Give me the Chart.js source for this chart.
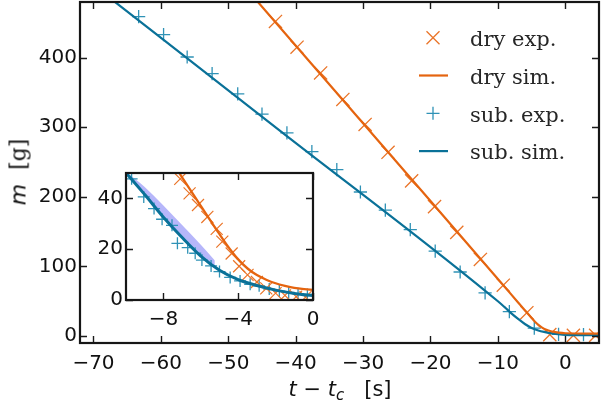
<!DOCTYPE html>
<html>
<head>
<meta charset="utf-8">
<script src="https://cdn.jsdelivr.net/npm/chart.js@4"></script>
<style>
  html,body{margin:0;padding:0;background:#fff;}
  #wrap{position:relative;width:603px;height:403px;overflow:hidden;background:#fff;}
  #main{position:absolute;left:0;top:0;}
  #inset{position:absolute;left:90px;top:165px;}
  .lbl{position:absolute;white-space:nowrap;color:#111;font-family:"DejaVu Sans";}
  #ylab{left:18px;top:172px;transform:translate(-50%,-50%) rotate(-90deg);font-size:22px;}
  #xlab{left:190px;width:300px;text-align:center;top:379px;font-size:21px;line-height:21px;}
  #xlab sub{font-size:15px;vertical-align:-4px;line-height:0;}
</style>
</head>
<body>
<div id="wrap">
  <canvas id="main" width="603" height="403"></canvas>
  <canvas id="inset" width="230" height="170"></canvas>
  <div id="ylab" class="lbl"><i>m</i>&nbsp;&nbsp;<span style="font-family:'DejaVu Serif'">[g]</span></div>
  <div id="xlab" class="lbl"><i>t</i> − <i>t</i><sub><i>c</i></sub>&nbsp;&nbsp;&nbsp;[s]</div>
</div>
<script>
// ---------------- data ----------------
const mainXTicks = [-70, -60, -50, -40, -30, -20, -10, 0];
const mainYTicks = [0, 100, 200, 300, 400];
const insetXTicks = [-8, -4, 0];
const insetYTicks = [0, 20, 40];
const legendLabels = ['dry exp.', 'dry sim.', 'sub. exp.', 'sub. sim.'];

// main panel: experimental points
const dryExpT = [-43.0, -39.8, -36.3, -33.0, -29.7, -26.3, -22.8, -19.4, -16.1, -12.6, -9.2, -5.7, -2.3, 1.2, 4.5];
const dryExpM = [452, 415, 378, 340, 304, 264, 223, 186, 149, 110, 73, 33.5, 2, 1, 1];
const subExpT = [-63.3, -59.6, -56.1, -52.4, -48.6, -45.0, -41.3, -37.6, -33.9, -30.4, -26.7, -23.0, -19.3, -15.6, -11.9, -8.3, -4.6, -1.0, 2.7];
const subExpM = [459, 433, 401, 377, 348, 319, 292, 265, 239, 207, 181, 153, 122, 92, 62, 35, 11.5, 2.5, 2];

// simulations (shared by both panels)
const drySimT = [-46.5, -20, -9.2, -7, -6, -5, -4.5, -4, -3.5, -3, -2.5, -2, -1.5, -1, 0, 5];
const drySimM = [490, 194, 73, 48.3, 37.1, 25.9, 20.6, 16.0, 12.4, 9.8, 8.0, 6.6, 5.6, 4.8, 4.0, 3.5];
const subSimT = [-68, -42.5, -10, -9, -8, -7, -6, -5, -4, -3, -2, -1, 0, 5];
const subSimM = [489, 296.4, 50, 41.5, 32.6, 24.6, 17.3, 11.7, 8.0, 5.7, 3.9, 2.6, 1.8, 1.2];

// inset: dense experimental points
const insetDryT = [-7.1, -6.6, -6.15, -5.65, -5.15, -4.85, -4.35, -3.95, -3.5, -3.0, -2.5, -2.0, -1.5, -0.9, -0.4];
const insetDryM = [47.7, 42.0, 37.4, 32.7, 28.0, 23.0, 18.3, 13.3, 9.9, 7.1, 4.6, 2.7, 1.8, 1.3, 1.1];
const insetSubT = [-9.7, -9.05, -8.5, -8.07, -7.54, -7.25, -6.7, -6.3, -5.94, -5.45, -5.0, -4.43, -3.9, -3.36, -2.88, -2.34, -1.8, -1.3, -0.8, -0.3];
const insetSubM = [47.7, 40.6, 36.0, 31.8, 29.4, 22.3, 20.6, 18.4, 15.7, 13.4, 11.2, 8.9, 7.5, 6.2, 5.6, 4.3, 3.5, 3.0, 2.5, 2.2];

// inset: shaded band
const bandT = [-10, -9, -8, -7, -6, -5.25];
const bandUpperM = [50.5, 44.5, 37.2, 29.5, 21.8, 15.6];
const bandLowerM = [50, 41.5, 32.6, 24.6, 17.3, 12.9];

// ---------------- styles ----------------
const ORANGE = '#e5640f';
const ORANGE_M = '#ea7428';
const BLUE = '#0a7198';
const BLUE_M = '#2f92b6';
const BAND = 'rgba(110,110,245,0.5)';

const zip = (xs, ys) => xs.map((x, i) => ({x: x, y: ys[i]}));
const fmt = v => (v < 0 ? '\u2212' + Math.abs(v) : String(v));

const framePlugin = {
  id: 'frame',
  beforeDraw(chart, args, o) {
    if (!o.bg) return;
    const a = chart.chartArea, ctx = chart.ctx;
    ctx.save(); ctx.fillStyle = '#fff';
    ctx.fillRect(a.left, a.top, a.right - a.left, a.bottom - a.top);
    ctx.restore();
  },
  afterDraw(chart, args, o) {
    const a = chart.chartArea, ctx = chart.ctx, sx = chart.scales.x, sy = chart.scales.y;
    ctx.save();
    ctx.strokeStyle = '#1a1a1a';
    ctx.lineWidth = o.tickWidth;
    ctx.beginPath();
    sx.ticks.forEach(t => {
      const p = Math.round(sx.getPixelForValue(t.value)) + 0.5;
      ctx.moveTo(p, a.bottom); ctx.lineTo(p, a.bottom - o.len);
      ctx.moveTo(p, a.top); ctx.lineTo(p, a.top + o.len);
    });
    sy.ticks.forEach(t => {
      const p = Math.round(sy.getPixelForValue(t.value)) + 0.5;
      ctx.moveTo(a.left, p); ctx.lineTo(a.left + o.len, p);
      ctx.moveTo(a.right, p); ctx.lineTo(a.right - o.len, p);
    });
    ctx.stroke();
    ctx.lineWidth = o.frameWidth;
    ctx.strokeStyle = '#161616';
    ctx.strokeRect(a.left, a.top, a.right - a.left, a.bottom - a.top);
    ctx.restore();
  }
};

const legendPlugin = {
  id: 'customLegend',
  afterDraw(chart) {
    const ctx = chart.ctx;
    const x0 = 433, tx = 470, base0 = 46, dy = 37.8;
    const kinds = [
      {type: 'x', color: ORANGE_M},
      {type: 'line', color: ORANGE},
      {type: '+', color: BLUE_M},
      {type: 'line', color: BLUE}
    ];
    ctx.save();
    legendLabels.forEach((lab, i) => {
      const b = base0 + i * dy, cy = b - 8.3, k = kinds[i];
      ctx.strokeStyle = k.color;
      ctx.beginPath();
      if (k.type === 'x') {
        ctx.lineWidth = 1.3;
        ctx.moveTo(x0 - 6.5, cy - 6.5); ctx.lineTo(x0 + 6.5, cy + 6.5);
        ctx.moveTo(x0 - 6.5, cy + 6.5); ctx.lineTo(x0 + 6.5, cy - 6.5);
      } else if (k.type === '+') {
        ctx.lineWidth = 1.3;
        ctx.moveTo(x0 - 6.5, cy); ctx.lineTo(x0 + 6.5, cy);
        ctx.moveTo(x0, cy - 6.5); ctx.lineTo(x0, cy + 6.5);
      } else {
        ctx.lineWidth = 2.2;
        ctx.moveTo(419, cy); ctx.lineTo(448, cy);
      }
      ctx.stroke();
      ctx.fillStyle = '#262626';
      ctx.font = '21px "DejaVu Serif"';
      ctx.textBaseline = 'alphabetic';
      ctx.textAlign = 'left';
      ctx.fillText(lab, tx, b);
    });
    ctx.restore();
  }
};

const tickFont = {family: 'DejaVu Sans', size: 20};

function axis(min, max, tickVals, fit, pad, isX) {
  return {
    type: 'linear', min: min, max: max,
    afterBuildTicks: s => { s.ticks = tickVals.map(v => ({value: v})); },
    afterFit: s => {
      if (isX) s.height = fit; else s.width = fit;
      s.paddingTop = 0; s.paddingBottom = 0; s.paddingLeft = 0; s.paddingRight = 0;
    },
    grid: {display: false, drawTicks: false},
    border: {display: false},
    ticks: {font: tickFont, color: '#111', padding: pad, callback: v => fmt(v), autoSkip: false, maxRotation: 0}
  };
}

// ---------------- main chart ----------------
new Chart(document.getElementById('main'), {
  type: 'scatter',
  data: {
    datasets: [
      {label: 'dry sim.', data: zip(drySimT, drySimM), showLine: true, borderColor: ORANGE, borderWidth: 2.2,
       pointRadius: 0, cubicInterpolationMode: 'monotone', order: 1, clip: 0},
      {label: 'sub. sim.', data: zip(subSimT, subSimM), showLine: true, borderColor: BLUE, borderWidth: 2.2,
       pointRadius: 0, cubicInterpolationMode: 'monotone', order: 1, clip: 0},
      {label: 'dry exp.', data: zip(dryExpT, dryExpM), showLine: false, pointStyle: 'crossRot', pointRadius: 9.3,
       pointBorderColor: ORANGE_M, borderColor: ORANGE_M, pointBorderWidth: 1.3, order: 2, clip: 0},
      {label: 'sub. exp.', data: zip(subExpT, subExpM), showLine: false, pointStyle: 'cross', pointRadius: 6.6,
       pointBorderColor: BLUE_M, borderColor: BLUE_M, pointBorderWidth: 1.3, order: 2, clip: 0}
    ]
  },
  options: {
    responsive: false, animation: false, devicePixelRatio: 1,
    layout: {autoPadding: false, padding: {top: 2, right: 4, left: 0, bottom: 0}},
    plugins: {legend: {display: false}, tooltip: {enabled: false},
              frame: {len: 7, tickWidth: 1.4, frameWidth: 2.2, bg: false}},
    events: [],
    scales: {
      x: axis(-72, 5, mainXTicks, 60, 9, true),
      y: axis(-10, 480, mainYTicks, 80, 3, false)
    }
  },
  plugins: [framePlugin, legendPlugin]
});

// ---------------- inset chart ----------------
new Chart(document.getElementById('inset'), {
  type: 'scatter',
  data: {
    datasets: [
      {label: 'band', data: zip(bandT, bandUpperM), showLine: true, borderColor: 'rgba(0,0,0,0)', borderWidth: 0,
       pointRadius: 0, fill: '+1', backgroundColor: BAND, cubicInterpolationMode: 'monotone', order: 5},
      {label: 'bandLow', data: zip(bandT, bandLowerM), showLine: true, borderColor: 'rgba(0,0,0,0)', borderWidth: 0,
       pointRadius: 0, fill: false, cubicInterpolationMode: 'monotone', order: 5},
      {label: 'dry sim.', data: zip(drySimT, drySimM), showLine: true, borderColor: ORANGE, borderWidth: 2.3,
       pointRadius: 0, cubicInterpolationMode: 'monotone', order: 1, clip: 0},
      {label: 'sub. sim.', data: zip(subSimT, subSimM), showLine: true, borderColor: BLUE, borderWidth: 3,
       pointRadius: 0, cubicInterpolationMode: 'monotone', order: 0, clip: 0},
      {label: 'dry exp.', data: zip(insetDryT, insetDryM), showLine: false, pointStyle: 'crossRot', pointRadius: 8.5,
       pointBorderColor: ORANGE_M, borderColor: ORANGE_M, pointBorderWidth: 1.2, order: 2, clip: 0},
      {label: 'sub. exp.', data: zip(insetSubT, insetSubM), showLine: false, pointStyle: 'cross', pointRadius: 6,
       pointBorderColor: BLUE_M, borderColor: BLUE_M, pointBorderWidth: 1.3, order: 2, clip: 0}
    ]
  },
  options: {
    responsive: false, animation: false, devicePixelRatio: 1,
    layout: {autoPadding: false, padding: {top: 8, right: 7, left: 0, bottom: 0}},
    plugins: {legend: {display: false}, tooltip: {enabled: false},
              frame: {len: 7, tickWidth: 1.4, frameWidth: 2.2, bg: true}},
    events: [],
    scales: {
      x: axis(-10, 0, insetXTicks, 35, 8, true),
      y: axis(0, 50, insetYTicks, 36, 3, false)
    }
  },
  plugins: [framePlugin]
});
</script>
</body>
</html>
